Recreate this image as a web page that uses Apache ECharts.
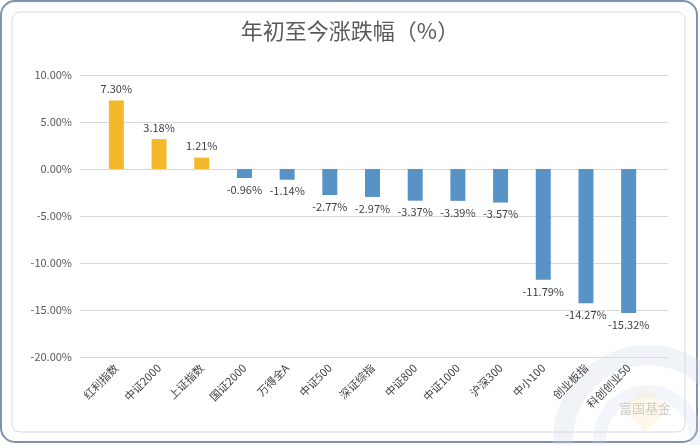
<!DOCTYPE html>
<html><head><meta charset="utf-8">
<script src="https://cdn.jsdelivr.net/npm/echarts@6/dist/echarts.min.js"></script>
<style>html,body{margin:0;padding:0;background:#fff}#c{width:700px;height:445px}</style>
</head><body><div id="c"></div>
<script>
const categories = ['红利指数','中证2000','上证指数','国证2000','万得全A','中证500','深证综指','中证800','中证1000','沪深300','中小100','创业板指','科创创业50'];
const values = [7.30, 3.18, 1.21, -0.96, -1.14, -2.77, -2.97, -3.37, -3.39, -3.57, -11.79, -14.27, -15.32];
const yTicks = { min: -20, max: 10, interval: 5 };
const FONT = '"Noto Sans CJK SC", "Noto Sans", sans-serif';

const chart = echarts.init(document.getElementById('c'), null, {renderer: 'canvas'});
chart.setOption({
  backgroundColor: '#fff',
  animation: false,
  title: {
    text: '年初至今涨跌幅（%）', left: 'center', top: 15,
    textStyle: { fontFamily: FONT, fontSize: 22, fontWeight: 'normal', color: '#595959' }
  },
  graphic: [
    { type: 'rect', z: -10, shape: { x: 1, y: 1, width: 696, height: 441, r: 14 }, style: { fill: 'none', stroke: '#7f92b0', lineWidth: 2 } },
    { type: 'rect', z: -10, shape: { x: 12, y: 12, width: 673, height: 420, r: 8 }, style: { fill: 'none', stroke: '#d6dbe3', lineWidth: 1 } },
    { type: 'ring', z: -9, shape: { cx: 648, cy: 440, r: 95, r0: 75 }, style: { fill: 'rgba(205,216,232,0.3)' } },
    { type: 'ring', z: -9, shape: { cx: 648, cy: 440, r: 55, r0: 42 }, style: { fill: 'rgba(205,216,232,0.25)' } },
    { type: 'polygon', z: -9, shape: { points: [[645,386],[668,409],[645,432],[622,409]] }, style: { fill: 'rgba(250,232,190,0.3)' } },
    { type: 'text', z: -8, style: { x: 645, y: 408, text: '富国基金', fill: 'rgba(195,195,195,0.8)', font: '13px ' + FONT, textAlign: 'center', textVerticalAlign: 'middle' } }
  ],
  grid: [
    { left: 80, right: 32, top: 75, bottom: 88 },
    { left: 95, right: 50, top: 75, bottom: 88 }
  ],
  xAxis: [
    { type: 'category', gridIndex: 0, data: categories, show: false },
    { type: 'category', gridIndex: 1, data: categories,
      axisLine: { show: false }, axisTick: { show: false },
      axisLabel: { rotate: 45, interval: 0, margin: 9, fontFamily: FONT, fontSize: 11, color: '#404040' } }
  ],
  yAxis: [
    { type: 'value', gridIndex: 0, min: yTicks.min, max: yTicks.max, interval: yTicks.interval,
      axisLine: { show: false }, axisTick: { show: false },
      splitLine: { lineStyle: { color: '#d9d9d9', width: 1 } },
      axisLabel: { formatter: v => v.toFixed(2) + '%', fontFamily: FONT, fontSize: 11, color: '#595959', margin: 8 } },
    { type: 'value', gridIndex: 1, min: yTicks.min, max: yTicks.max, interval: yTicks.interval, show: false, splitLine: { show: false } }
  ],
  series: [{
    type: 'bar', xAxisIndex: 1, yAxisIndex: 1, barWidth: 15,
    data: values.map(v => ({
      value: v,
      itemStyle: { color: v >= 0 ? '#f4b92a' : '#5893c8' },
      label: { position: v >= 0 ? 'top' : 'bottom' }
    })),
    label: { show: true, formatter: p => p.value.toFixed(2) + '%', fontFamily: FONT, fontSize: 11, color: '#404040', distance: 6 }
  }]
});
</script></body></html>
